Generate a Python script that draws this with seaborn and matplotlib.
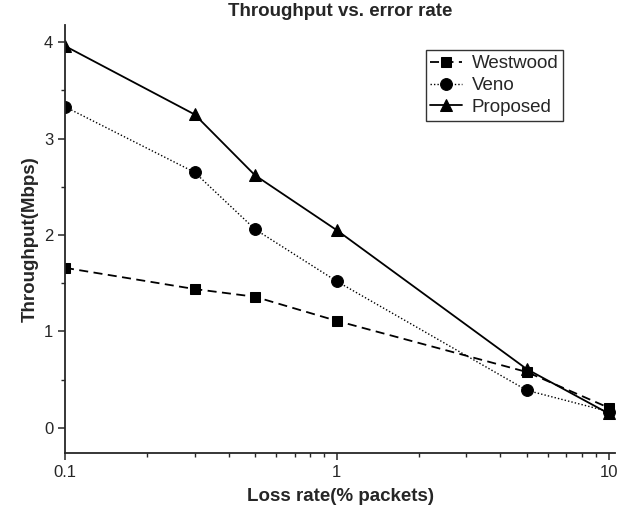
import matplotlib
matplotlib.use("Agg")
import matplotlib.pyplot as plt
import seaborn as sns
import pandas as pd
import numpy as np
from matplotlib.ticker import LogLocator, FixedLocator, NullFormatter, MultipleLocator

loss_rate = [0.1, 0.3, 0.5, 1, 5, 10]
westwood = [1.66, 1.44, 1.36, 1.11, 0.58, 0.21]
veno = [3.33, 2.65, 2.06, 1.52, 0.39, 0.17]
proposed = [3.96, 3.25, 2.62, 2.05, 0.61, 0.15]
series_names = ["Westwood", "Veno", "Proposed"]
x_ticks = [0.1, 1, 10]
x_tick_labels = ["0.1", "1", "10"]
y_ticks = [0, 1, 2, 3, 4]

sns.set_style("ticks")
plt.rcParams['font.family'] = ['Liberation Sans', 'DejaVu Sans']

df = pd.DataFrame({
    "loss": loss_rate * 3,
    "tp": westwood + veno + proposed,
    "series": sum([[n] * len(loss_rate) for n in series_names], []),
})

fig = plt.figure(figsize=(6.22, 5.11), dpi=100)
ax = fig.add_axes([0.1045, 0.1135, 0.885, 0.838])

styles = {
    "Westwood": dict(ls=(0, (5, 3)), marker="s", ms=7.5, lw=1.3),
    "Veno": dict(ls=(0, (1, 1.5)), marker="o", ms=8.5, lw=1.0),
    "Proposed": dict(ls="-", marker="^", ms=9, lw=1.3),
}
for name in series_names:
    sub = df[df.series == name]
    st = styles[name]
    sns.lineplot(data=sub, x="loss", y="tp", ax=ax, color="black",
                 linestyle=st["ls"], marker=st["marker"], markersize=st["ms"],
                 linewidth=st["lw"], markeredgecolor="black", label=name)

ax.set_xscale("log")
ax.set_xlim(0.1, 10.6)
ax.set_ylim(-0.26, 4.18)
ax.xaxis.set_major_locator(FixedLocator(x_ticks))
ax.set_xticklabels(x_tick_labels)
ax.xaxis.set_minor_locator(LogLocator(base=10, subs=np.arange(2, 10)))
ax.xaxis.set_minor_formatter(NullFormatter())
ax.set_yticks(y_ticks)
ax.yaxis.set_minor_locator(MultipleLocator(0.5))

for s in ["top", "right"]:
    ax.spines[s].set_visible(False)
for s in ["left", "bottom"]:
    ax.spines[s].set_linewidth(1.3)
ax.tick_params(axis="both", which="major", direction="out", length=5, width=1.1, labelsize=12)
ax.tick_params(axis="both", which="minor", direction="out", length=3, width=1.0)

fig.text(0.5467, 1 - 12 / 511, "Throughput vs. error rate", fontsize=13.5,
         fontweight="bold", ha="center", va="center")
ax.set_xlabel("Loss rate(% packets)", fontsize=13.5, fontweight="bold", labelpad=6)
ax.set_ylabel("Throughput(Mbps)", fontsize=13.5, fontweight="bold", labelpad=4)

leg = ax.legend(loc="upper left", bbox_to_anchor=(0.655, 0.94), fontsize=13.5,
                frameon=True, fancybox=False, edgecolor="black", handlelength=1.7,
                handletextpad=0.5, borderpad=0.25, labelspacing=0.25, borderaxespad=0)
leg.get_frame().set_linewidth(1.0)

fig.savefig("out.png", dpi=100)
